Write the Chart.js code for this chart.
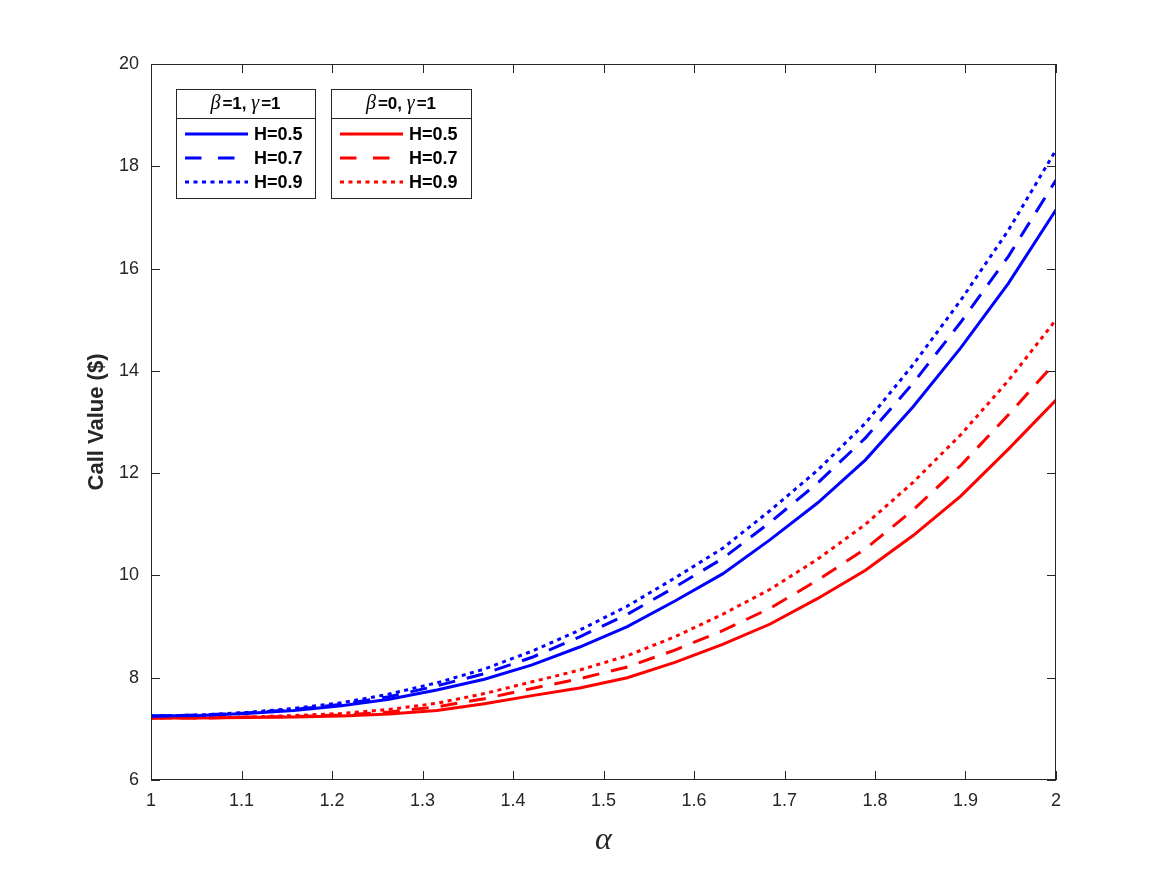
<!doctype html>
<html lang="en">
<head>
  <meta charset="UTF-8">
  <title>Call value vs alpha</title>
  <script src="https://cdn.jsdelivr.net/npm/chart.js"></script>
  <style>
    html, body {
      margin: 0;
      padding: 0;
      background: #fff;
    }

    #chart_01 {
      display: block;
    }
  </style>
</head>
<body>
  <canvas id="chart_01" width="1167" height="875"></canvas>
  <script type="application/javascript">
    // alpha grid (20 points from 1 to 2)
    const alpha = [1.0000, 1.0526, 1.1053, 1.1579, 1.2105, 1.2632, 1.3158, 1.3684, 1.4211, 1.4737,
                   1.5263, 1.5789, 1.6316, 1.6842, 1.7368, 1.7895, 1.8421, 1.8947, 1.9474, 2.0000]

    // beta=1, gamma=1
    const b1_h5 = [7.25, 7.26, 7.30, 7.36, 7.45, 7.58, 7.76, 7.97, 8.25, 8.60,
                   9.00, 9.50, 10.03, 10.70, 11.42, 12.26, 13.30, 14.45, 15.71, 17.15]
    const b1_h7 = [7.25, 7.27, 7.31, 7.38, 7.48, 7.63, 7.84, 8.08, 8.40, 8.80,
                   9.24, 9.77, 10.33, 11.04, 11.81, 12.69, 13.76, 14.95, 16.24, 17.73]
    const b1_h9 = [7.25, 7.27, 7.32, 7.40, 7.51, 7.68, 7.90, 8.17, 8.52, 8.93,
                   9.40, 9.95, 10.53, 11.27, 12.06, 12.98, 14.12, 15.38, 16.75, 18.32]

    // beta=0, gamma=1
    const b0_h5 = [7.21, 7.21, 7.22, 7.23, 7.25, 7.29, 7.36, 7.49, 7.65, 7.80,
                   8.00, 8.30, 8.65, 9.05, 9.55, 10.10, 10.78, 11.55, 12.47, 13.43]
    const b0_h7 = [7.21, 7.21, 7.23, 7.24, 7.27, 7.33, 7.43, 7.59, 7.79, 7.98,
                   8.21, 8.54, 8.92, 9.36, 9.91, 10.52, 11.28, 12.15, 13.14, 14.18]
    const b0_h9 = [7.21, 7.22, 7.23, 7.26, 7.30, 7.38, 7.50, 7.69, 7.92, 8.15,
                   8.43, 8.80, 9.24, 9.73, 10.32, 11.00, 11.82, 12.75, 13.81, 15.00]

    const h_labels = ['H=0.5', 'H=0.7', 'H=0.9']
    const group_titles = [['β', '=1, ', 'γ', '=1'], ['β', '=0, ', 'γ', '=1']]

    const blue = '#0000ff'
    const red = '#ff0000'
    const axis_color = '#262626'
    const dashes = [[], [17, 12], [4, 4.5]]

    const pts = ys => ys.map((y, i) => ({x: alpha[i], y}))

    const make_set = (ys, color, dash) => ({
      data: pts(ys),
      borderColor: color,
      backgroundColor: color,
      borderWidth: 3,
      borderDash: dash,
      pointRadius: 0,
      tension: 0,
      fill: false
    })

    const datasets = [
      make_set(b1_h5, blue, dashes[0]),
      make_set(b1_h7, blue, dashes[1]),
      make_set(b1_h9, blue, dashes[2]),
      make_set(b0_h5, red, dashes[0]),
      make_set(b0_h7, red, dashes[1]),
      make_set(b0_h9, red, dashes[2])
    ]

    // box round the axes, ticks pointing inwards on all four sides
    const frame_plugin = {
      id: 'frame',
      afterDatasetsDraw(chart) {
        const {ctx, chartArea: {left, right, top, bottom}, scales: {x, y}} = chart
        const tl = 9
        ctx.save()
        ctx.strokeStyle = axis_color
        ctx.lineWidth = 1
        ctx.beginPath()
        x.ticks.forEach(t => {
          const px = Math.round(x.getPixelForValue(t.value)) + 0.5
          ctx.moveTo(px, bottom); ctx.lineTo(px, bottom - tl)
          ctx.moveTo(px, top); ctx.lineTo(px, top + tl)
        })
        y.ticks.forEach(t => {
          const py = Math.round(y.getPixelForValue(t.value)) + 0.5
          ctx.moveTo(left, py); ctx.lineTo(left + tl, py)
          ctx.moveTo(right, py); ctx.lineTo(right - tl, py)
        })
        ctx.stroke()
        ctx.strokeRect(left + 0.5, top + 0.5, right - left - 1, bottom - top - 1)
        ctx.restore()
      }
    }

    // two MATLAB-like legend boxes with a title row
    const legend_plugin = {
      id: 'legend_boxes',
      afterDraw(chart) {
        const {ctx} = chart
        const boxes = [
          {l: 176, r: 315, color: blue, title: group_titles[0]},
          {l: 331, r: 471, color: red, title: group_titles[1]}
        ]
        const top = 89, sep = 118, bot = 198
        const rows = [134, 158, 182]
        const greek_font = 'italic 20px "Liberation Serif"'
        const bold_font = 'bold 17px "Liberation Sans"'

        ctx.save()
        boxes.forEach(b => {
          ctx.fillStyle = '#fff'
          ctx.fillRect(b.l, top, b.r - b.l, bot - top)
          ctx.strokeStyle = axis_color
          ctx.lineWidth = 1
          ctx.strokeRect(b.l + 0.5, top + 0.5, b.r - b.l, bot - top)
          ctx.beginPath()
          ctx.moveTo(b.l, sep + 0.5)
          ctx.lineTo(b.r, sep + 0.5)
          ctx.stroke()

          // title, greek letters in italic serif
          const is_greek = s => /^[α-ω]$/.test(s)
          const widths = b.title.map(s => {
            ctx.font = is_greek(s) ? greek_font : bold_font
            return ctx.measureText(s).width + (is_greek(s) ? 2 : 0)
          })
          const total = widths.reduce((a, c) => a + c, 0)
          let tx = (b.l + b.r) / 2 - total / 2
          ctx.fillStyle = '#000'
          ctx.textBaseline = 'middle'
          ctx.textAlign = 'left'
          b.title.forEach((s, i) => {
            ctx.font = is_greek(s) ? greek_font : bold_font
            ctx.fillText(s, tx, 104)
            tx += widths[i]
          })

          // entries
          rows.forEach((ry, i) => {
            ctx.strokeStyle = b.color
            ctx.lineWidth = 3
            ctx.setLineDash(i === 1 ? [16.5, 16.5] : dashes[i])
            ctx.beginPath()
            ctx.moveTo(b.l + 9, ry)
            ctx.lineTo(b.l + 72, ry)
            ctx.stroke()
            ctx.setLineDash([])
            ctx.fillStyle = '#000'
            ctx.font = 'bold 18px "Liberation Sans"'
            ctx.fillText(h_labels[i], b.l + 78, ry + 1)
          })
        })
        ctx.restore()
      }
    }

    const config = {
      type: 'line',
      data: {datasets},
      options: {
        responsive: false,
        animation: false,
        layout: {
          padding: {left: 0, right: 111, top: 64, bottom: 0}
        },
        plugins: {
          legend: {display: false},
          tooltip: {enabled: false}
        },
        scales: {
          x: {
            type: 'linear',
            min: 1,
            max: 2,
            afterFit: s => { s.height = 95 },
            grid: {display: false, drawTicks: false},
            border: {display: false},
            ticks: {
              stepSize: 0.1,
              padding: 10,
              color: axis_color,
              autoSkip: false,
              maxRotation: 0,
              font: {family: '"Liberation Sans"', size: 18},
              callback: v => String(+v.toFixed(1))
            },
            title: {
              display: true,
              text: 'α',
              color: axis_color,
              font: {family: '"Liberation Serif"', style: 'italic', size: 32},
              padding: {top: 0, bottom: 15}
            }
          },
          y: {
            min: 6,
            max: 20,
            afterFit: s => { s.width = 151 },
            grid: {display: false, drawTicks: false},
            border: {display: false},
            ticks: {
              stepSize: 2,
              padding: 12,
              color: axis_color,
              font: {family: '"Liberation Sans"', size: 18}
            },
            title: {
              display: true,
              text: 'Call Value ($)',
              color: axis_color,
              font: {family: '"Liberation Sans"', weight: 'bold', size: 22},
              padding: {top: 84, bottom: 0}
            }
          }
        }
      },
      plugins: [frame_plugin, legend_plugin]
    }

    const myChart = new Chart(
      document.getElementById('chart_01'),
      config
    )
  </script>
</body>
</html>
